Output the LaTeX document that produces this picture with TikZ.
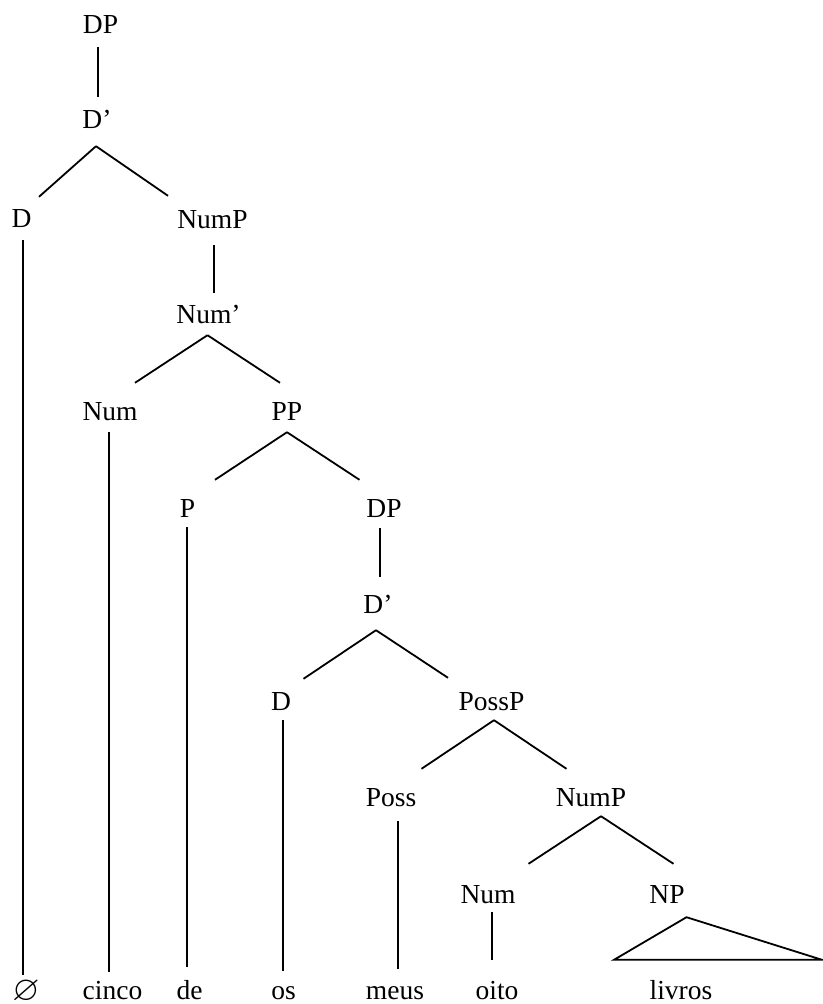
\documentclass[tikz,border=0pt]{standalone}
\usepackage{amsmath,amssymb}
\usepackage{fontspec}
\setmainfont{Liberation Serif}
\usepackage{tikz}
\usetikzlibrary{calc}
\tikzset{
  lbl/.style={inner sep=0pt, anchor=base, text height=18pt, text depth=0pt,
              font=\fontsize{27.5}{33}\selectfont},
  brl/.style={line width=1.8pt, line cap=butt},
  tri/.style={line width=1.8pt, line join=miter},
}

\begin{document}
\begin{tikzpicture}[x=1pt, y=-1pt]
        \useasboundingbox (0,0) rectangle (822,1004);
        \node[lbl] (dpa)   at (100.5,33)  {DP};
        \node[lbl] (dbara) at (97,128)    {D'};
        \node[lbl] (da)    at (21.5,227)  {D};
        \node[lbl] (numpa) at (212.5,228) {NumP};
        \node[lbl] (numbar) at (208.5,323) {Num'};
        \node[lbl] (numa)  at (110,420)   {Num};
        \node[lbl] (pp)    at (287,420)   {PP};
        \node[lbl] (p)     at (187.5,517) {P};
        \node[lbl] (dpb)   at (384,517)   {DP};
        \node[lbl] (dbarb) at (378,613)   {D'};
        \node[lbl] (db)    at (281,710)   {D};
        \node[lbl] (possp) at (491.5,710) {PossP};
        \node[lbl] (poss)  at (391,806)   {Poss};
        \node[lbl] (numpb) at (591,806)   {NumP};
        \node[lbl] (numb)  at (488,903)   {Num};
        \node[lbl] (np)    at (667,903)   {NP};
        \node[lbl, font=\fontsize{35}{40}\selectfont] (wnull) at (26,1000) {$\varnothing$};
        \node[lbl] (wcinco) at (112.5,999) {cinco};
        \node[lbl] (wde)    at (189.5,999) {de};
        \node[lbl] (wos)    at (283.5,999) {os};
        \node[lbl] (wmeus)  at (395,999)   {meus};
        \node[lbl] (woito)  at (497,999)   {oito};
        \node[lbl] (wlivros) at (681,999)  {livros};
        \draw[brl] ([shift={(-2.5,14)}]dpa.south) -- ([shift={(1,-13)}]dbara.north);
        \draw[brl] ([shift={(-1,18)}]dbara.south) -- ([shift={(17.5,-12)}]da.north);
        \draw[brl] ([shift={(-1,18)}]dbara.south) -- ([shift={(-44.5,-14)}]numpa.north);
        \draw[brl] ([shift={(1.8,17)}]numpa.south) -- ([shift={(5.8,-12)}]numbar.north);
        \draw[brl] ([shift={(-1,12)}]numbar.south) -- ([shift={(25,-19)}]numa.north);
        \draw[brl] ([shift={(-1,12)}]numbar.south) -- ([shift={(-7,-19)}]pp.north);
        \draw[brl] ([shift={(0,12)}]pp.south) -- ([shift={(27.5,-19)}]p.north);
        \draw[brl] ([shift={(0,12)}]pp.south) -- ([shift={(-24.5,-19)}]dpb.north);
        \draw[brl] ([shift={(-4,11)}]dpb.south) -- ([shift={(2,-18)}]dbarb.north);
        \draw[brl] ([shift={(-2,17)}]dbarb.south) -- ([shift={(22.5,-13)}]db.north);
        \draw[brl] ([shift={(-2,17)}]dbarb.south) -- ([shift={(-43.5,-14)}]possp.north);
        \draw[brl] ([shift={(2.5,10)}]possp.south) -- ([shift={(30.5,-19)}]poss.north);
        \draw[brl] ([shift={(2.5,10)}]possp.south) -- ([shift={(-24.5,-19)}]numpb.north);
        \draw[brl] ([shift={(10,10)}]numpb.south) -- ([shift={(40.5,-21)}]numb.north);
        \draw[brl] ([shift={(10,10)}]numpb.south) -- ([shift={(6.5,-21)}]np.north);
        \draw[brl] ([shift={(1.2,13)}]da.south) -- ([shift={(-3.3,-7)}]wnull.north);
        \draw[brl] ([shift={(-0.7,12)}]numa.south) -- ([shift={(-3.2,-9)}]wcinco.north);
        \draw[brl] ([shift={(-0.2,10)}]p.south) -- ([shift={(-2.2,-14)}]wde.north);
        \draw[brl] ([shift={(2.3,10)}]db.south) -- ([shift={(-0.2,-10)}]wos.north);
        \draw[brl] ([shift={(7.3,15)}]poss.south) -- ([shift={(3.3,-12)}]wmeus.north);
        \draw[brl] ([shift={(4.3,9)}]numb.south) -- ([shift={(-4.7,-21)}]woito.north);
        \draw[tri] ([shift={(19.5,14)}]np.south) -- ([shift={(-67,-21)}]wlivros.north)
                   -- ([shift={(141,-21)}]wlivros.north) -- cycle;
      \end{tikzpicture}
\end{document}
